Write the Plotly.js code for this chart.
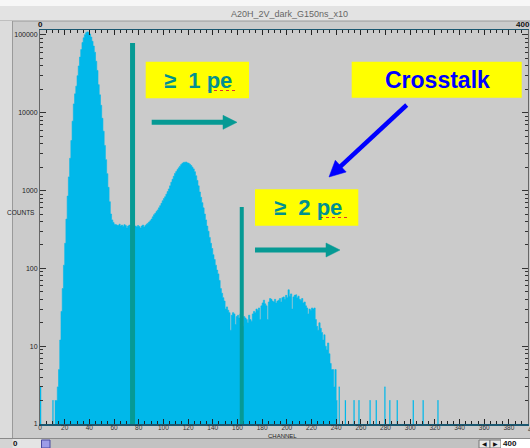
<!DOCTYPE html>
<html>
<head>
<meta charset="utf-8">
<script src="https://cdn.plot.ly/plotly-3.0.1.min.js"></script>
<style>
  html, body { margin: 0; padding: 0; overflow: hidden; background: #cbcbcb; }
  #chart { width: 530px; height: 448px; }
</style>
</head>
<body>
<div id="chart"></div>
<script>
// Dark-count spectrum: counts per ADC channel, channels 0..243 (bin i = channel i)
const mainCounts = [
  3, 0, 0, 0, 0, 0, 0, 0, 0, 0,
  2, 0, 2, 2, 3, 5, 12, 28, 55, 110,
  210, 430, 850, 1500, 2600, 4400, 7800, 13000, 17500, 22000,
  30000, 40000, 52000, 65000, 80000, 92000, 101000, 107000, 110000, 108000,
  103000, 94000, 83000, 72000, 60000, 46000, 35000, 23000, 17000, 12500,
  8500, 5800, 3800, 2500, 1650, 1100, 720, 500, 420, 390,
  370, 365, 360, 355, 370, 350, 360, 345, 365, 355,
  330, 350, 360, 340, 355, 345, 335, 350, 340, 355,
  345, 330, 350, 360, 340, 355, 370, 380, 395, 410,
  430, 460, 490, 510, 540, 565, 600, 640, 685, 740,
  790, 835, 900, 970, 1050, 1150, 1280, 1400, 1530, 1660,
  1760, 1860, 1960, 2060, 2160, 2240, 2300, 2350, 2330, 2280,
  2240, 2180, 2100, 2000, 1900, 1750, 1550, 1350, 1150, 960,
  820, 700, 600, 500, 420, 350, 300, 250, 210, 180,
  150, 130, 110, 95, 85, 70, 55, 48, 42, 38,
  30, 32, 29, 27, 16, 25, 27, 26, 19, 24,
  25, 23, 26, 24, 18, 24, 23, 22, 20, 25,
  22, 21, 26, 28, 27, 30, 29, 31, 22, 33,
  36, 39, 35, 33, 22, 37, 41, 40, 38, 37,
  40, 36, 38, 39, 41, 37, 42, 43, 40, 45,
  42, 53, 44, 47, 30, 43, 45, 46, 42, 44,
  40, 39, 41, 36, 37, 33, 31, 26, 30, 29,
  31, 30, 31, 22, 18, 16, 20, 17, 15, 12,
  14, 10, 9, 11, 8, 6, 5, 5, 3, 5,
  2, 0, 3, 0
];

// Sparse single events in the high-channel tail
const tailChannels = [247, 254, 258, 267, 272, 279, 283, 289, 302, 310, 322];
const tailCounts   = [2, 2, 2, 2, 2, 3, 2, 2, 2, 2, 2];

// Discriminator thresholds (channel)
const thresholdChannels = [75, 163.5];
const thresholdLabels = ['\u2265\u00a0\u00a01\u00a0pe', '\u2265\u00a0\u00a02\u00a0pe'];

// Axis ticks
const yTickVals = [1, 10, 100, 1000, 10000, 100000];
const yTickText = ['1', '10', '100', '1000', '10000', '100000'];

const chartTitle = 'A20H_2V_dark_G150ns_x10';
const xLabel = 'CHANNEL';
const yLabel = 'COUNTS';
const calloutText = 'Crosstalk';

const BAR = '#00b8ea';
const TEAL = '#069a94';
const YELLOW = '#ffff00';

// ---------- histogram: each run of non-empty bins becomes one filled step outline ----------
const bins = new Map();
mainCounts.forEach((c, ch) => bins.set(ch, c));
tailChannels.forEach((ch, i) => bins.set(ch, tailCounts[i]));
const lastCh = Math.max(...bins.keys());
const runs = [];
let cur = null;
for (let ch = 0; ch <= lastCh + 1; ch++) {
  const c = bins.get(ch) || 0;
  if (c > 0) {
    if (!cur) { cur = { x: [], y: [] }; runs.push(cur); }
    cur.x.push(ch, ch + 1); cur.y.push(c, c);
  } else {
    cur = null;
  }
}
const histTraces = runs.map(r => ({
  type: 'scatter', mode: 'lines', x: r.x, y: r.y,
  line: { color: BAR, width: 0.6 },
  fill: 'tozeroy', fillcolor: BAR,
  hoverinfo: 'skip'
}));

const yMinor = [];
for (let d = 1; d <= 100000; d *= 10) for (let k = 2; k <= 9; k++) yMinor.push(k * d);

// ---------- page geometry helpers (pixel -> paper) ----------
const W = 530, H = 448;
const M = { l: 40, r: 2, t: 30, b: 24 };
const plotW = W - M.l - M.r;
const plotH = H - M.t - M.b;
const px = x => (x - M.l) / plotW;
const py = y => (H - M.b - y) / plotH;

function rectPx(x0, y0, x1, y1, fill, line, layer) {
  return { type: 'rect', xref: 'paper', yref: 'paper', layer: layer || 'above',
    x0: px(x0), x1: px(x1), y0: py(y1), y1: py(y0),
    fillcolor: fill, line: line || { width: 0 } };
}
function linePx(x0, y0, x1, y1, color, width, dash, layer) {
  return { type: 'line', xref: 'paper', yref: 'paper', layer: layer || 'above',
    x0: px(x0), y0: py(y0), x1: px(x1), y1: py(y1),
    line: { color: color, width: width, dash: dash || 'solid' } };
}
// arrow = shaft + filled triangular head, tip at (x1,y1)
function arrowPx(x0, y0, x1, y1, color, width, headLen, headHalf) {
  const dx = x1 - x0, dy = y1 - y0, L = Math.hypot(dx, dy);
  const ux = dx / L, uy = dy / L, nx = -uy, ny = ux;
  const bx = x1 - ux * headLen, by = y1 - uy * headLen;
  const pts = [[x1, y1], [bx + nx * headHalf, by + ny * headHalf], [bx - nx * headHalf, by - ny * headHalf]];
  const path = 'M' + pts.map(p => px(p[0]) + ',' + py(p[1])).join('L') + 'Z';
  return [
    linePx(x0, y0, bx + ux * 1, by + uy * 1, color, width),
    { type: 'path', xref: 'paper', yref: 'paper', layer: 'above', path: path,
      fillcolor: color, line: { color: color, width: 0.5 } }
  ];
}

const shapes = [
  // window chrome: title strip, left strip, bottom scroll bar
  rectPx(-5, -5, 540, 21, '#e3e3e3', null, 'below'),
  rectPx(-5, -5, 540, 6, '#f7f7f7', null, 'below'),
  linePx(-5, 21, 540, 21, '#9a9a9a', 1, null, 'below'),
  rectPx(-5, 21, 12.5, 438, '#dcdcdc', null, 'below'),
  linePx(12.5, 21, 12.5, 438, '#9a9a9a', 1, null, 'below'),
  linePx(-5, 438.5, 540, 438.5, '#8a8a8a', 1, null, 'below'),
  rectPx(-5, 439, 12.5, 450, '#d4d4d4', null, 'below'),
  rectPx(12.5, 439, 41, 450, '#e4e4e4', null, 'below'),
  rectPx(50, 439, 479, 450, '#c2c2c2', null, 'below'),
  rectPx(41.5, 440, 50, 448, '#9c9ce8', { color: '#4a4aa0', width: 1 }, 'below'),
  rectPx(479, 440, 490, 448, '#e8e8e8', { color: '#777', width: 1 }, 'below'),
  rectPx(490, 440, 501, 448, '#e8e8e8', { color: '#777', width: 1 }, 'below'),
  rectPx(501, 439, 540, 450, '#ffffff', null, 'below'),

  // threshold markers
  { type: 'line', xref: 'x', yref: 'paper', layer: 'above',
    x0: thresholdChannels[0], x1: thresholdChannels[0], y0: 0, y1: py(43),
    line: { color: TEAL, width: 5 } },
  { type: 'line', xref: 'x', yref: 'paper', layer: 'above',
    x0: thresholdChannels[1], x1: thresholdChannels[1], y0: 0, y1: py(207),
    line: { color: TEAL, width: 4 } },

  // label boxes
  rectPx(145.7, 61.7, 249, 98.3, YELLOW),
  rectPx(255, 189.3, 358.3, 225.7, YELLOW),
  rectPx(351.7, 61.7, 521.7, 97.7, YELLOW),

  // spell-check squiggles under "pe"
  linePx(208, 90.5, 236, 90.5, '#e03030', 1, 'dot'),
  linePx(320, 217.5, 347, 217.5, '#e03030', 1, 'dot'),

  ...arrowPx(151.7, 122.3, 237, 122.3, TEAL, 5, 14, 7),
  ...arrowPx(255, 250, 340, 250, TEAL, 5, 14, 7),
  ...arrowPx(406.7, 105, 329, 177, '#0000ff', 4.5, 16, 8)
];

const annFont = { family: 'Liberation Sans, Arial, sans-serif', color: '#222' };
const annotations = [
  { xref: 'paper', yref: 'paper', x: px(37), y: py(212.5), xanchor: 'right', yanchor: 'middle',
    text: yLabel, showarrow: false, font: Object.assign({}, annFont, { size: 6.5 }) },
  { xref: 'paper', yref: 'paper', x: px(282), y: py(436.5), xanchor: 'center', yanchor: 'middle',
    text: xLabel, showarrow: false, font: Object.assign({}, annFont, { size: 6 }) },
  { xref: 'paper', yref: 'paper', x: px(40), y: py(24.5), xanchor: 'center', yanchor: 'middle',
    text: '<b>0</b>', showarrow: false, font: Object.assign({}, annFont, { size: 8, color: '#111' }) },
  { xref: 'paper', yref: 'paper', x: px(532), y: py(24.5), xanchor: 'right', yanchor: 'middle',
    text: '<b>400</b>', showarrow: false, font: Object.assign({}, annFont, { size: 8, color: '#111' }) },
  { xref: 'paper', yref: 'paper', x: px(533), y: py(429), xanchor: 'center', yanchor: 'middle',
    text: '400', showarrow: false, font: Object.assign({}, annFont, { size: 6.5, color: '#333' }) },
  // scroll bar captions
  { xref: 'paper', yref: 'paper', x: px(15.5), y: py(443.5), xanchor: 'center', yanchor: 'middle',
    text: '<b>0</b>', showarrow: false, font: Object.assign({}, annFont, { size: 8, color: '#111' }) },
  { xref: 'paper', yref: 'paper', x: px(510), y: py(443.5), xanchor: 'center', yanchor: 'middle',
    text: '<b>400</b>', showarrow: false, font: Object.assign({}, annFont, { size: 8, color: '#111' }) },
  { xref: 'paper', yref: 'paper', x: px(484.5), y: py(444), xanchor: 'center', yanchor: 'middle',
    text: '\u25C0', showarrow: false, font: Object.assign({}, annFont, { size: 6, color: '#111' }) },
  { xref: 'paper', yref: 'paper', x: px(495.5), y: py(444), xanchor: 'center', yanchor: 'middle',
    text: '\u25B6', showarrow: false, font: Object.assign({}, annFont, { size: 6, color: '#111' }) },
  // overlay labels
  { xref: 'paper', yref: 'paper', x: px(198), y: py(80), xanchor: 'center', yanchor: 'middle',
    text: '<b>' + thresholdLabels[0] + '</b>', showarrow: false,
    font: { family: 'Liberation Sans, Arial, sans-serif', size: 22, color: '#009090' } },
  { xref: 'paper', yref: 'paper', x: px(307.5), y: py(207.5), xanchor: 'center', yanchor: 'middle',
    text: '<b>' + thresholdLabels[1] + '</b>', showarrow: false,
    font: { family: 'Liberation Sans, Arial, sans-serif', size: 22, color: '#009090' } },
  { xref: 'paper', yref: 'paper', x: px(437), y: py(79.5), xanchor: 'center', yanchor: 'middle',
    text: '<b>' + calloutText + '</b>', showarrow: false,
    font: { family: 'Liberation Sans, Arial, sans-serif', size: 23, color: '#0000ff' } }
];

const layout = {
  width: W, height: H,
  margin: M,
  paper_bgcolor: '#cbcbcb',
  plot_bgcolor: '#cbcbcb',
  showlegend: false,
  title: {
    text: chartTitle, x: 271 / W, xanchor: 'center', xref: 'paper',
    y: 1 - 14 / H, yanchor: 'middle', yref: 'container',
    font: { family: 'Liberation Sans, Arial, sans-serif', size: 9, color: '#666' }
  },
  xaxis: {
    range: [0, plotW / 1.234],
    tickmode: 'linear', tick0: 0, dtick: 20,
    ticks: 'inside', ticklen: 5, tickwidth: 1, tickcolor: '#222',
    minor: { dtick: 5, tick0: 0, ticks: 'inside', ticklen: 3, tickwidth: 1, tickcolor: '#222' },
    showline: true, linecolor: '#1c5870', linewidth: 1.5, mirror: 'ticks',
    showgrid: false, zeroline: false,
    tickfont: { family: 'Liberation Sans, Arial, sans-serif', size: 6.5, color: '#333' },
    ticklabelstandoff: -3
  },
  yaxis: {
    type: 'log', range: [0, 5.064],
    tickmode: 'array', tickvals: yTickVals, ticktext: yTickText,
    ticks: 'inside', ticklen: 6, tickwidth: 1, tickcolor: '#333',
    minor: { tickmode: 'array', tickvals: yMinor, ticks: 'inside', ticklen: 3, tickwidth: 1, tickcolor: '#333' },
    showline: true, linecolor: '#666', linewidth: 1, mirror: 'ticks',
    showgrid: false, zeroline: false,
    tickfont: { family: 'Liberation Sans, Arial, sans-serif', size: 7, color: '#222' }
  },
  shapes: shapes,
  annotations: annotations
};

Plotly.newPlot('chart', histTraces, layout, { displayModeBar: false, staticPlot: true });
</script>
</body>
</html>
